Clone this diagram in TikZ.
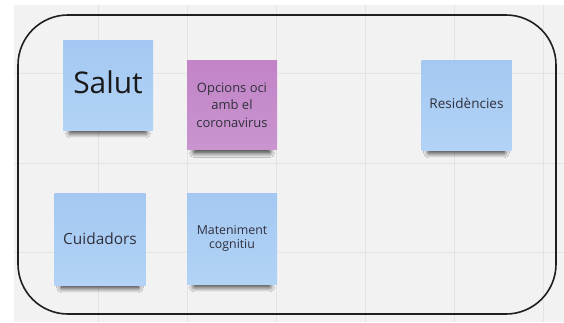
\documentclass[tikz,border=0pt]{standalone}
\usepackage{fontspec}
\setmainfont{Open Sans}
\usetikzlibrary{shadows.blur}
\definecolor{boardgrey}{HTML}{F2F2F2}
\definecolor{gridgrey}{HTML}{E3E3E3}
\definecolor{notebluetop}{HTML}{A4C8F2}
\definecolor{noteblueend}{HTML}{B2D3F6}
\definecolor{notepurptop}{HTML}{C283C7}
\definecolor{notepurpend}{HTML}{C995CF}
\definecolor{notetext}{HTML}{30303C}

\begin{document}
\begin{tikzpicture}[x=1bp,y=-1bp]
\tikzstyle{every node}+=[inner sep=0pt]
\tikzstyle{sticky}=[minimum width=90bp, minimum height=90bp, align=center,
  text=notetext, font=\fontsize{13}{17.5}\selectfont,
  blur shadow={shadow xshift=0bp, shadow yshift=-12bp, shadow scale=0.84,
  shadow opacity=85, shadow blur radius=6bp, shadow blur steps=12}]
\tikzstyle{bluenote}=[sticky, top color=notebluetop, bottom color=noteblueend]
\tikzstyle{purpnote}=[sticky, top color=notepurptop, bottom color=notepurpend]
\useasboundingbox (0,0) rectangle (564,322);
\fill [boardgrey] (14,5) rectangle (564,322);
% grid of the board
\foreach \gx in {98,187,276,365,454,543}
  \draw [gridgrey, line width=0.8bp] (\gx,5) -- (\gx,322);
\foreach \gy in {73,163,252}
  \draw [gridgrey, line width=0.8bp] (14,\gy) -- (564,\gy);
% frame
\draw [black!88, line width=1.6bp, rounded corners=50bp] (18,15) rectangle (556,314);
% notes
\node [bluenote, font=\fontsize{30}{34}\selectfont, text=black!90] (salut) at (108,85) {\raisebox{6bp}{Salut}};
\node [purpnote, minimum height=89bp] (oci) at (232,105) {Opcions oci\\amb el\\coronavirus};
\node [bluenote, font=\fontsize{13.6}{17}\selectfont] (residencies) at (466.5,105) {\raisebox{3bp}{Residències}};
\node [bluenote, font=\fontsize{15.5}{18}\selectfont, minimum width=91bp, minimum height=92bp] (cuidadors) at (100,239) {\raisebox{1.5bp}{Cuidadors}};
\node [bluenote, font=\fontsize{12.4}{17}\selectfont, minimum height=91bp] (manteniment) at (232,238.5) {\raisebox{1bp}{\shortstack{Mateniment\\[2bp]cognitiu}}};
\end{tikzpicture}
\end{document}
